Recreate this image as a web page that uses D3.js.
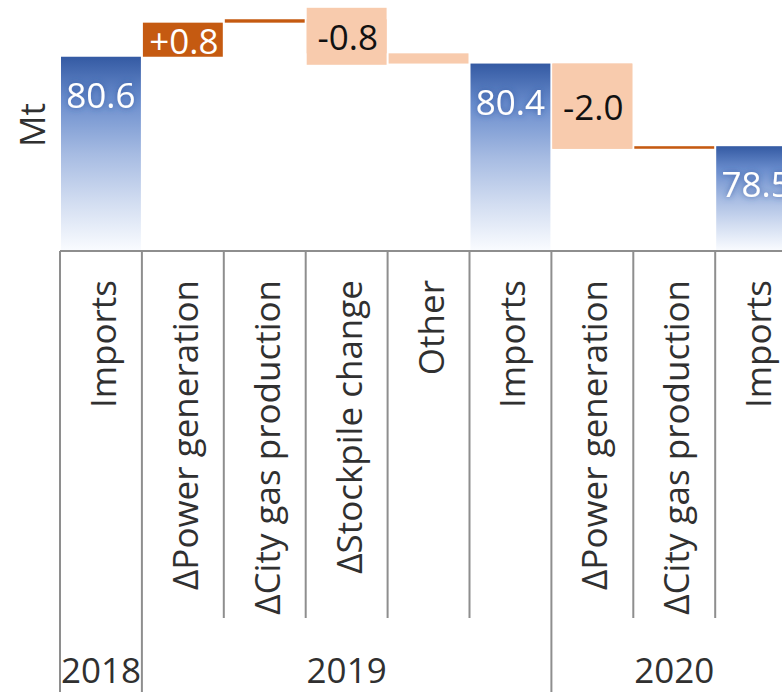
<!DOCTYPE html>
<html>
<head>
<meta charset="utf-8">
<script src="https://cdn.jsdelivr.net/npm/d3@7"></script>
<style>
  html, body { margin: 0; padding: 0; background: #ffffff; overflow: hidden; }
  svg { display: block; font-family: "Open Sans", "Noto Sans", sans-serif; }
</style>
</head>
<body>
<svg id="chart" width="782" height="692"></svg>
<script>
// ---------------- data ----------------
const categories = ["Imports", "ΔPower generation", "ΔCity gas production", "ΔStockpile change", "Other",
                    "Imports", "ΔPower generation", "ΔCity gas production", "Imports"];
const years = ["2018", "2019", "2019", "2019", "2019", "2019", "2020", "2020", "2020"];
const kinds = ["total", "delta", "delta", "delta", "delta", "total", "delta", "delta", "total"];
const values = [80.56, 0.8, 0.08, -0.8, -0.24, 80.40, -2.0, 0.06, 78.46];
const yDomain = [76.0, 82.0];
const yAxisLabel = "Mt";

// ---------------- layout ----------------
const W = 782, H = 692;
const axisY = 251;
const svg = d3.select("#chart");

const x = d3.scaleBand()
  .domain(d3.range(categories.length))
  .range([60, 60 + categories.length * 81.9])
  .padding(0);
const y = d3.scaleLinear().domain(yDomain).range([axisY, axisY - 6 * 42.6]);

// compute waterfall segments
let level = 0;
const bars = values.map((v, i) => {
  if (kinds[i] === "total") {
    level = v;
    return { i, kind: "total", v, y0: yDomain[0], y1: v };
  } else {
    const start = level;
    level = level + v;
    return { i, kind: "delta", v, y0: start, y1: level };
  }
});

// gradient for totals
const defs = svg.append("defs");
const grad = defs.append("linearGradient")
  .attr("id", "blueGrad").attr("x1", 0).attr("y1", 0).attr("x2", 0).attr("y2", 1);
[[0, "#345aa3"], [0.22, "#6a8dcd"], [0.5, "#a6bbe2"], [0.75, "#d2ddf1"], [1, "#fafcff"]]
  .forEach(([o, c]) => grad.append("stop").attr("offset", o).attr("stop-color", c));
const glow = defs.append("filter").attr("id", "glow")
  .attr("x", "-20%").attr("y", "-30%").attr("width", "140%").attr("height", "160%");
glow.append("feDropShadow").attr("dx", 0).attr("dy", 0).attr("stdDeviation", 3)
  .attr("flood-color", "#2f55a0").attr("flood-opacity", 0.85);

const posColor = "#c55a11", negColor = "#f8cbad";
const inset = 1;

// bars
svg.append("g").selectAll("rect")
  .data(bars)
  .join("rect")
  .attr("x", d => x(d.i) + inset)
  .attr("width", x.bandwidth() - 2 * inset)
  .attr("y", d => y(Math.max(d.y0, d.y1)))
  .attr("height", d => Math.abs(y(d.y0) - y(d.y1)))
  .attr("fill", d => d.kind === "total" ? "url(#blueGrad)" : (d.v >= 0 ? posColor : negColor));

// label boxes for labelled negative deltas (box bigger than a thin bar)
const fmt = d3.format("+.1f");
const labelled = bars.filter(d => d.kind === "delta" && Math.abs(d.v) >= 0.5);
const minBox = 57;
svg.append("g").selectAll("rect")
  .data(labelled.filter(d => d.v < 0))
  .join("rect")
  .attr("x", d => x(d.i) + inset)
  .attr("width", x.bandwidth() - 2 * inset)
  .attr("y", d => {
    const c = (y(d.y0) + y(d.y1)) / 2;
    const h = Math.max(Math.abs(y(d.y0) - y(d.y1)), minBox);
    return c - h / 2;
  })
  .attr("height", d => Math.max(Math.abs(y(d.y0) - y(d.y1)), minBox))
  .attr("fill", negColor);

// delta labels
svg.append("g").selectAll("text")
  .data(labelled)
  .join("text")
  .attr("x", d => x(d.i) + x.bandwidth() / 2 + 1)
  .attr("y", d => (y(d.y0) + y(d.y1)) / 2 + 14)
  .attr("text-anchor", "middle")
  .attr("font-size", 35)
  .attr("fill", d => d.v >= 0 ? "#ffffff" : "#111111")
  .text(d => fmt(d.v).replace("−", "-"));

// total labels
svg.append("g").selectAll("text")
  .data(bars.filter(d => d.kind === "total"))
  .join("text")
  .attr("x", d => x(d.i) + x.bandwidth() / 2)
  .attr("y", d => y(d.y1) + 51)
  .attr("text-anchor", "middle")
  .attr("font-size", 35)
  .attr("fill", "#ffffff")
  .attr("filter", "url(#glow)")
  .text(d => d.v.toFixed(1));

// axis line
const axisColor = "#8e8e8e";
svg.append("line")
  .attr("x1", x(0)).attr("x2", W)
  .attr("y1", axisY).attr("y2", axisY)
  .attr("stroke", axisColor).attr("stroke-width", 2);

// separators
const seps = d3.range(categories.length + 1).map(i => ({
  i,
  xpos: i < categories.length ? x(i) : x(categories.length - 1) + x.bandwidth(),
  group: i === 0 || i === categories.length || years[i] !== years[i - 1]
}));
svg.append("g").selectAll("line")
  .data(seps)
  .join("line")
  .attr("x1", d => d.xpos).attr("x2", d => d.xpos)
  .attr("y1", axisY).attr("y2", d => d.group ? H : 618)
  .attr("stroke", axisColor).attr("stroke-width", 2);

// category labels
svg.append("g").selectAll("text")
  .data(categories)
  .join("text")
  .attr("transform", (d, i) => `translate(${x(i) + x.bandwidth() / 2 + 15},280) rotate(-90)`)
  .attr("text-anchor", "end")
  .attr("font-size", 35)
  .attr("fill", "#303030")
  .text(d => d);

// year group labels
const groups = [];
years.forEach((yr, i) => {
  const g = groups.length ? groups[groups.length - 1] : null;
  if (g && g.year === yr) g.end = i; else groups.push({ year: yr, start: i, end: i });
});
svg.append("g").selectAll("text")
  .data(groups)
  .join("text")
  .attr("x", d => (x(d.start) + x(d.end) + x.bandwidth()) / 2)
  .attr("y", 683)
  .attr("text-anchor", "middle")
  .attr("font-size", 35)
  .attr("fill", "#303030")
  .text(d => d.year);

// y axis label
svg.append("text")
  .attr("transform", "translate(45,125) rotate(-90)")
  .attr("text-anchor", "middle")
  .attr("font-size", 35)
  .attr("fill", "#303030")
  .text(yAxisLabel);
</script>
</body>
</html>
